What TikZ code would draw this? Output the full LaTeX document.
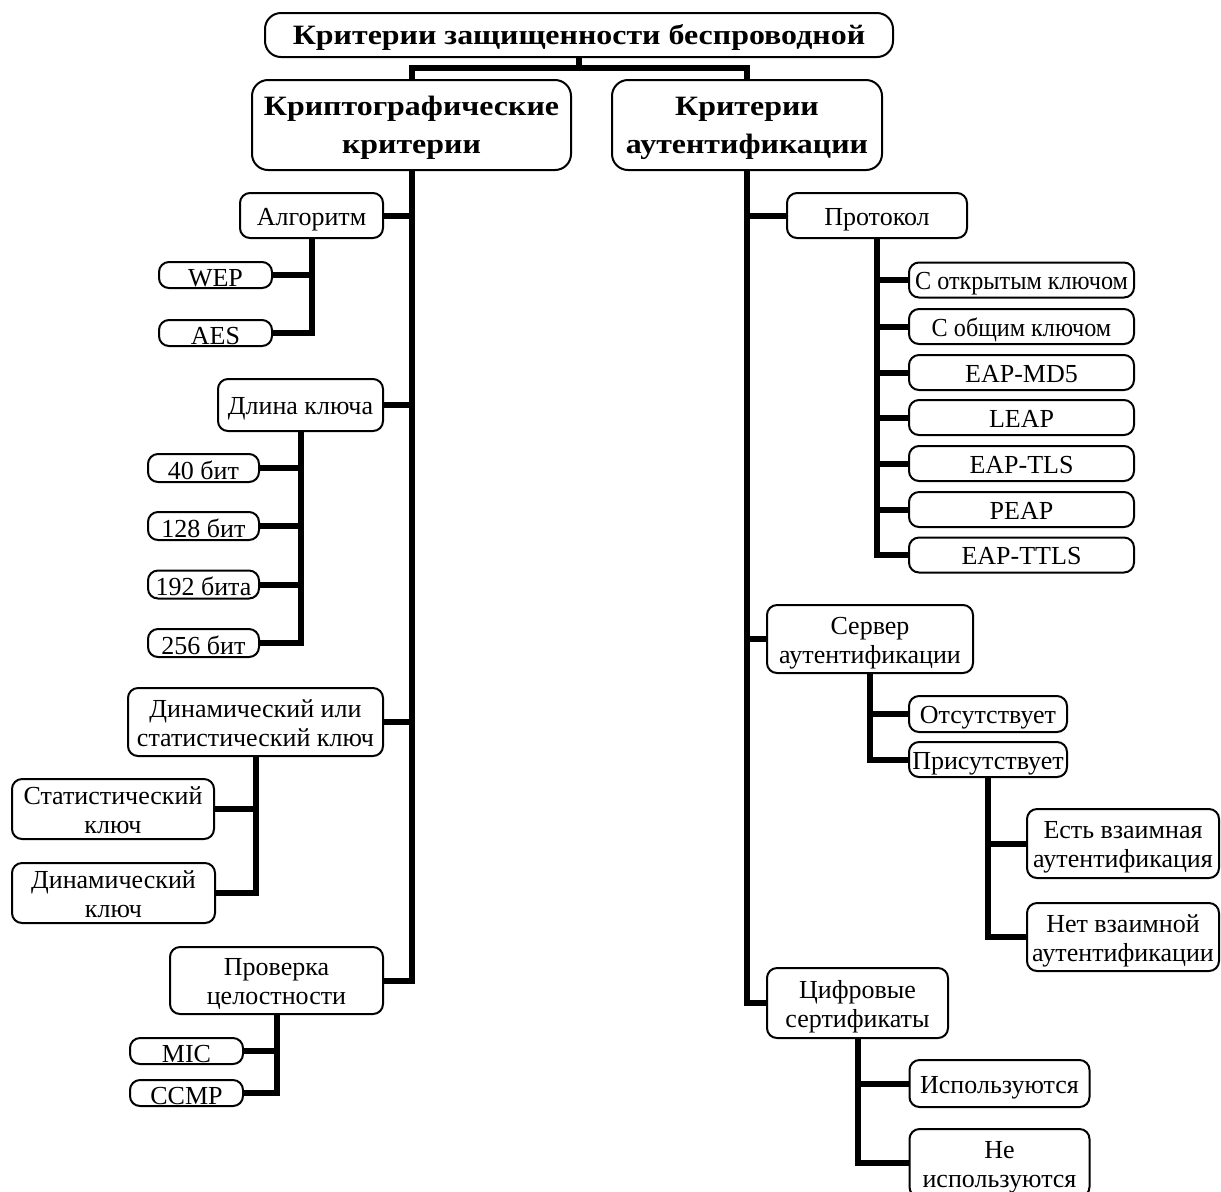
\documentclass[tikz,border=0pt]{standalone}
\usepackage{fontspec}
\setmainfont{Liberation Serif}
\newfontfamily\titlefont[FakeStretch=1.14]{Liberation Serif}
\newfontfamily\narrowfont[FakeStretch=0.93]{Liberation Serif}
\usetikzlibrary{calc}
\begin{document}
\begin{tikzpicture}[x=0.5pt,y=-0.5pt,
  wh/.style n args={2}{minimum width=#1*0.5pt,minimum height=#2*0.5pt},
  box/.style={draw,line width=1pt,rounded corners=5pt,fill=white,align=center,inner sep=0pt,
    text height=9.5pt,text depth=0pt,
    font=\fontsize{13}{14.5}\selectfont},
  smallbox/.style={box,text height=11pt},
  twoline/.style={text height=24pt},
  bigbox/.style={box,rounded corners=8pt,text height=9.5pt,text depth=0pt,
    font=\fontsize{14}{19}\selectfont\titlefont\bfseries},
  bigtwo/.style={text height=28pt},
  conn/.style={line width=3pt,line join=miter}]
\useasboundingbox (0,0) rectangle (1221,1191);
% top level
\node[bigbox,wh={628}{44}] (title) at (579,35) {Критерии защищенности беспроводной};
\node[bigbox,bigtwo,wh={319}{90}] (crypt) at (411.5,125) {Криптографические\\критерии};
\node[bigbox,bigtwo,wh={270}{90}] (auth) at (747,125) {Критерии\\аутентификации};
% left branch
\node[box,wh={143}{45}] (alg) at (311.5,215.5) {Алгоритм};
\node[smallbox,wh={113}{26}] (wep) at (215.5,275) {WEP};
\node[smallbox,wh={113}{26}] (aes) at (215.5,333) {AES};
\node[box,wh={165}{52}] (len) at (300.5,405) {Длина ключа};
\node[smallbox,wh={111}{28}] (b40) at (203.5,468) {40 бит};
\node[smallbox,wh={111}{28}] (b128) at (203.5,526) {128 бит};
\node[smallbox,wh={111}{28}] (b192) at (203.5,584.5) {192 бита};
\node[smallbox,wh={111}{28}] (b256) at (203.5,643) {256 бит};
\node[box,twoline,wh={255}{68}] (dyn) at (255.5,722) {Динамический или\\статистический ключ};
\node[box,twoline,wh={202}{60}] (stat) at (113,809) {Статистический\\ключ};
\node[box,twoline,wh={203}{60}] (dynk) at (113.5,893) {Динамический\\ключ};
\node[box,twoline,wh={213}{67}] (check) at (276.5,980.5) {Проверка\\целостности};
\node[smallbox,wh={113}{26}] (mic) at (186.5,1051) {MIC};
\node[smallbox,wh={113}{26}] (ccmp) at (186.5,1093) {CCMP};
% right branch
\node[box,wh={180}{45}] (proto) at (877,215.5) {Протокол};
\node[box,wh={225}{35}] (p1) at (1021.5,280) {\narrowfont С открытым ключом};
\node[box,wh={225}{35}] (p2) at (1021.5,326.5) {\narrowfont С общим ключом};
\node[box,wh={225}{35}] (p3) at (1021.5,372.5) {EAP-MD5};
\node[box,wh={225}{35}] (p4) at (1021.5,417.5) {LEAP};
\node[box,wh={225}{35}] (p5) at (1021.5,463.5) {EAP-TLS};
\node[box,wh={225}{35}] (p6) at (1021.5,509.5) {PEAP};
\node[box,wh={225}{35}] (p7) at (1021.5,555) {EAP-TTLS};
\node[box,twoline,wh={206}{68}] (server) at (870,639) {Сервер\\аутентификации};
\node[box,wh={158}{36}] (absent) at (988,714) {Отсутствует};
\node[box,wh={158}{35}] (present) at (988,759.5) {Присутствует};
\node[box,twoline,wh={192}{69}] (mutual) at (1123,843.5) {Есть взаимная\\аутентификация};
\node[box,twoline,wh={192}{68}] (nomutual) at (1123,937) {Нет взаимной\\аутентификации};
\node[box,twoline,wh={181}{70}] (digital) at (857.5,1003) {Цифровые\\сертификаты};
\node[box,wh={180}{47}] (used) at (999.5,1083.5) {Используются};
\node[box,twoline,wh={180}{68}] (notused) at (999.5,1163) {Не\\используются};
% connectors
\coordinate (tj) at (579,68);
\draw[conn] (title.south) -- (tj);
\draw[conn] (crypt.north) |- (tj) -| (auth.north);
\draw[conn] (crypt.south) |- (check.east);
\foreach \n in {alg,len,dyn} \draw[conn] (\n.east) -- (\n.east -| crypt.south);
\draw[conn] (alg.south) |- (aes.east);
\draw[conn] (wep.east) -- (wep.east -| alg.south);
\draw[conn] (len.south) |- (b256.east);
\foreach \n in {b40,b128,b192} \draw[conn] (\n.east) -- (\n.east -| len.south);
\draw[conn] (dyn.south) |- (dynk.east);
\draw[conn] (stat.east) -- (stat.east -| dyn.south);
\draw[conn] (check.south) |- (ccmp.east);
\draw[conn] (mic.east) -- (mic.east -| check.south);
\draw[conn] (auth.south) |- (digital.west);
\foreach \n in {proto,server} \draw[conn] (\n.west) -- (\n.west -| auth.south);
\draw[conn] (proto.south) |- (p7.west);
\foreach \n in {p1,p2,p3,p4,p5,p6} \draw[conn] (\n.west) -- (\n.west -| proto.south);
\draw[conn] (server.south) |- (present.west);
\draw[conn] (absent.west) -- (absent.west -| server.south);
\draw[conn] (present.south) |- (nomutual.west);
\draw[conn] (mutual.west) -- (mutual.west -| present.south);
\draw[conn] (digital.south) |- (notused.west);
\draw[conn] (used.west) -- (used.west -| digital.south);
\end{tikzpicture}
\end{document}
